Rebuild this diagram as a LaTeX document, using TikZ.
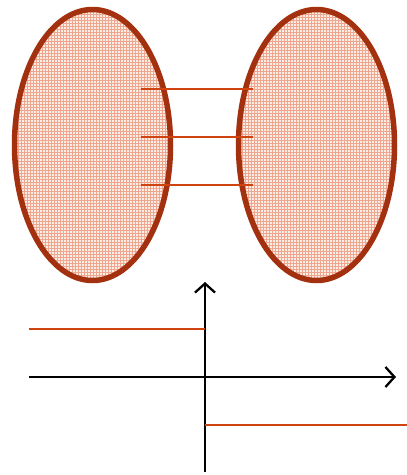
\documentclass[tikz,border=0pt]{standalone}
\usetikzlibrary{arrows.meta}
\definecolor{rim}{HTML}{A3300F}
\definecolor{link}{HTML}{D0420F}
\definecolor{gridc}{HTML}{EFA68E}
\definecolor{fillc}{HTML}{FCEDE6}
\tikzset{
  rimstyle/.style={draw=rim, line width=5.5pt},
  linkline/.style={draw=link, line width=2pt},
  gridline/.style={draw=gridc, line width=0.5pt},
  axis/.style={draw=black, line width=2.3pt, -{Straight Barb[length=9pt,width=20pt,line width=2.3pt]}},
}
\begin{document}
\begin{tikzpicture}[x=1pt,y=-1pt]
\useasboundingbox (0,0) rectangle (407,475);
% ellipses
\foreach \cx/\nm in {92.5/L,316.5/R}{
  \coordinate (c\nm) at (\cx,145);
  \begin{scope}
    \clip (c\nm) ellipse [x radius=78, y radius=135.5];
    \fill[fillc] (\cx-80,5) rectangle (\cx+80,285);
    \foreach \k in {0,...,54}{
      \draw[gridline] (\cx-80+\k*3,5) -- (\cx-80+\k*3,285);
    }
    \foreach \k in {0,...,94}{
      \draw[gridline] (\cx-80,5+\k*3) -- (\cx+80,5+\k*3);
    }
  \end{scope}
  \draw[rimstyle] (c\nm) ellipse [x radius=78, y radius=135.5];
}
% links
\foreach \y [count=\i] in {89,136.5,184.5}{
  \coordinate (a\i) at (141,\y);
  \coordinate (b\i) at (253,\y);
  \draw[linkline] (a\i) -- (b\i);
}
% axes
\coordinate (o) at (205,377);
\coordinate (xl) at (29,377);
\coordinate (xr) at (396,377);
\coordinate (yb) at (205,472);
\coordinate (yt) at (205,282);
\draw[axis] (xl) -- (xr);
\draw[axis] (yb) -- (yt);
% step lines
\coordinate (s1) at (29,329);
\coordinate (s2) at (205,329);
\coordinate (s3) at (205,425);
\coordinate (s4) at (407,425);
\draw[linkline] (s1) -- (s2);
\draw[linkline] (s3) -- (s4);
\end{tikzpicture}
\end{document}
